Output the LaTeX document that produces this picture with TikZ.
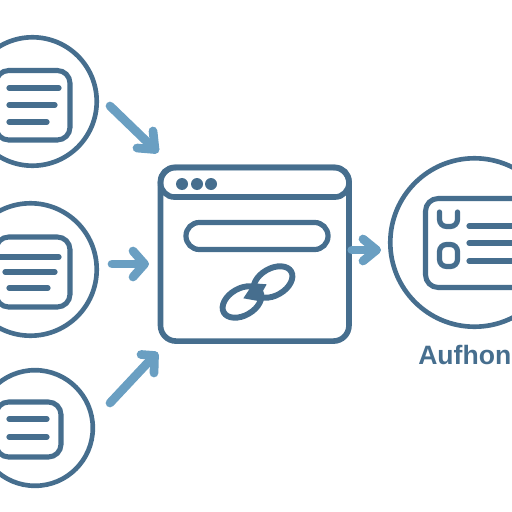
\documentclass[tikz,border=0pt]{standalone}
\usepackage{fontspec}
\setmainfont{Liberation Sans}
\usepackage{xcolor}
\definecolor{darkblue}{HTML}{466E8E}
\definecolor{lightblue}{HTML}{6A9FC2}
\tikzset{
  ring/.style={circle,draw=darkblue,line width=3.3pt,fill=white,inner sep=0pt},
  icon/.style={draw=darkblue,line width=3.6pt,rounded corners=9pt},
  textline/.style={draw=darkblue,line width=3.7pt,line cap=round},
  flow/.style={draw=lightblue,line width=6.2pt,line cap=round,line join=round},
  pane/.style={draw=darkblue,line width=4pt,minimum width=4.71cm}
}
\begin{document}
\begin{tikzpicture}[x=0.025cm,y=-0.025cm]
\useasboundingbox (0,0) rectangle (512,512);
\clip (0,0) rectangle (512,512);

% sources
\node[ring,minimum size=3.21cm] (srcA) at (32.5,101.5) {};
\node[ring,minimum size=3.31cm] (srcB) at (30.5,269.5) {};
\node[ring,minimum size=2.89cm] (srcC) at (35,428) {};
\draw[icon] (-4,70.5) rectangle (70,140);
\draw[icon] (-4,237) rectangle (70,307);
\draw[icon] (-4,402) rectangle (61,457);
\foreach \y/\a/\b in {88/9/59,105/9/55,122/9/47,257/-2/59,272/5/55,288/9/48,419/9/47,437/9/47}
  \draw[textline] (\a,\y) -- (\b,\y);

% browser window
\node[pane,rounded corners=11pt,minimum height=4.34cm] (browser) at (254.75,254.25) {};
\node[pane,rounded corners=10pt,minimum height=0.74cm] (titlebar) at (254.75,182.25) {};
\foreach \x in {182,197,211}
  \fill[darkblue] (\x,184) circle (6);
\node[draw=darkblue,line width=3.7pt,rounded corners=9.5pt,minimum width=3.55cm,minimum height=0.675cm] (addressbar) at (257,236) {};

% broken link
\draw[darkblue,line width=4.2pt,rotate around={30:(273,282)}] (273,282) ellipse (21 and 13.5);
\draw[darkblue,line width=4.2pt,rotate around={30:(242,302)}] (242,302) ellipse (21 and 13.5);
\fill[darkblue] (253.3,283.3) -- (266.7,284.3) -- (261,294.3) -- (263.3,296.7) -- (258.3,301) -- (243.3,298.3) -- (250,288.3) -- cycle;

% result
\node[ring,minimum size=4.21cm] (result) at (474.5,242.5) {};
\draw[icon] (425.5,198.5) rectangle (540,287.5);
\draw[textline,rounded corners=5pt] (439.5,212) -- (439.5,226.5) -- (457.5,226.5) -- (457.5,212);
\draw[textline,rounded corners=5pt] (439.5,244.5) rectangle (457.5,266.5);
\foreach \y in {226,243,261}
  \draw[textline] (469,\y) -- (530,\y);
\node[anchor=base west,inner sep=0pt,text=darkblue,font=\bfseries\fontsize{18.9}{24}\selectfont] (label) at (418,364) {Aufhon};

% arrows
\coordinate (tipA) at (155,149.5);
\coordinate (tipB) at (144.5,264);
\coordinate (tipC) at (154.5,355.5);
\coordinate (tipD) at (376.5,250);
\draw[flow] (110,106) -- (tipA);
\draw[flow] (137,148) -- (tipA) -- (153,131);
\draw[flow] (112,264) -- (tipB);
\draw[flow] (133,251) -- (tipB) -- (133,277);
\draw[flow] (110,403) -- (tipC);
\draw[flow] (141,354.5) -- (tipC) -- (154,373);
\draw[flow] (browser.east |- tipD) -- (tipD);
\draw[flow] (363,239) -- (tipD) -- (363,261);

\end{tikzpicture}
\end{document}
